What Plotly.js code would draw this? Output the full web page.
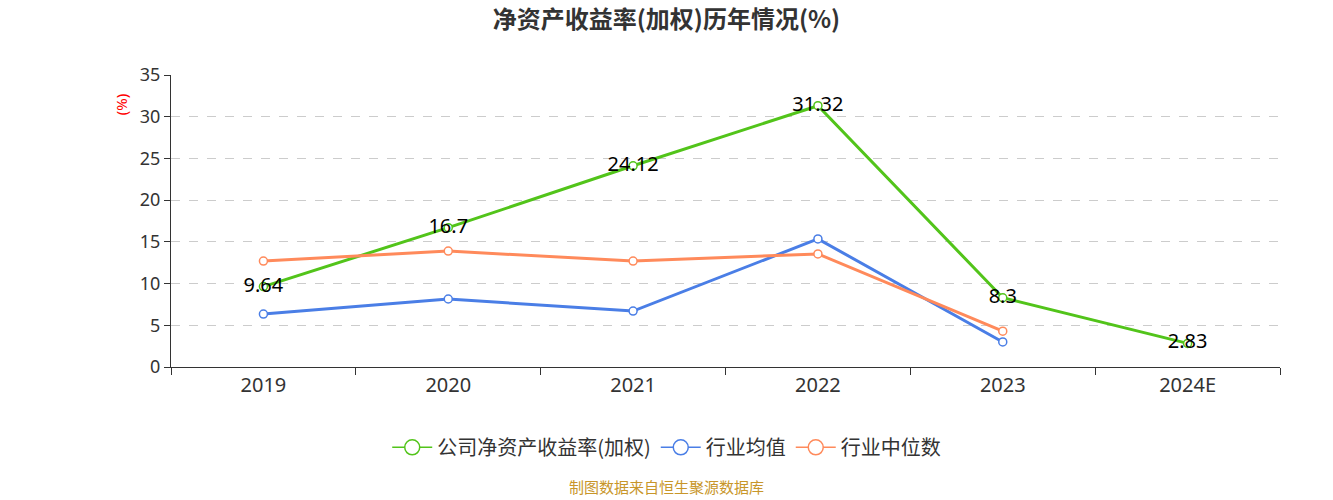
<!DOCTYPE html>
<html>
<head>
<meta charset="utf-8">
<script src="https://cdn.plot.ly/plotly-3.0.1.min.js"></script>
<style>html,body{margin:0;padding:0;background:#fff;}#chart{width:1333px;height:500px;}</style>
</head>
<body>
<div id="chart"></div>
<script>
const categories = ["2019", "2020", "2021", "2022", "2023", "2024E"];
const companyROE = [9.64, 16.7, 24.12, 31.32, 8.3, 2.83];
const industryMean = [6.35, 8.15, 6.7, 15.35, 3.0, null];
const industryMedian = [12.7, 13.9, 12.7, 13.55, 4.3, null];
const seriesNames = ["公司净资产收益率(加权)", "行业均值", "行业中位数"];
const seriesColors = ["#52c41a", "#4a7ee6", "#ff8a5b"];
const yTicks = [0, 5, 10, 15, 20, 25, 30, 35];

const FONT = "Noto Sans, Noto Sans CJK SC, sans-serif";
const CJK = "Noto Sans CJK SC, Noto Sans, sans-serif";

function series(name, y, color, withText) {
  const t = {
    x: categories, y: y, name: name, type: "scatter",
    mode: withText ? "lines+markers+text" : "lines+markers",
    line: {color: color, width: 3},
    marker: {symbol: "circle", size: 8, color: "#fff", line: {color: color, width: 1.5}},
    cliponaxis: false, showlegend: false
  };
  if (withText) {
    t.text = y.map(v => String(v));
    t.textposition = "middle center";
    t.textfont = {family: FONT, size: 20, color: "#000"};
  }
  return t;
}
function legendEntry(name, color) {
  return {
    x: [null], y: [null], name: name, type: "scatter", mode: "lines+markers",
    line: {color: color, width: 1.5},
    marker: {symbol: "circle", size: 15, color: "#fff", line: {color: color, width: 1.5}},
    showlegend: true, hoverinfo: "skip"
  };
}

const data = [
  series(seriesNames[0], companyROE, seriesColors[0], true),
  series(seriesNames[1], industryMean, seriesColors[1], false),
  series(seriesNames[2], industryMedian, seriesColors[2], false),
  legendEntry(seriesNames[0], seriesColors[0]),
  legendEntry(seriesNames[1], seriesColors[1]),
  legendEntry(seriesNames[2], seriesColors[2])
];

const layout = {
  width: 1333, height: 500,
  margin: {l: 171, r: 53, t: 75, b: 133},
  paper_bgcolor: "#fff", plot_bgcolor: "#fff",
  font: {family: FONT, color: "#333", size: 18},
  title: {text: "<b>净资产收益率(加权)历年情况(%)</b>", x: 0.5, xanchor: "center", y: 0.96, yanchor: "middle",
          font: {family: CJK, size: 24, color: "#333"}},
  showlegend: true,
  legend: {orientation: "h", x: 0.447, xanchor: "center", y: -0.275, yanchor: "middle",
           font: {family: CJK, size: 20, color: "#333"}, itemwidth: 40, traceorder: "normal"},
  xaxis: {
    type: "category", categoryorder: "array", categoryarray: categories,
    range: [-0.5, 5.5],
    showline: true, linecolor: "#333", linewidth: 1,
    ticks: "outside", tickson: "boundaries", ticklen: 7, tickcolor: "#333",
    showgrid: false, zeroline: false,
    tickfont: {family: FONT, size: 20, color: "#333"}
  },
  yaxis: {
    range: [0, 35], tickvals: yTicks, ticktext: yTicks.map(String),
    showline: true, linecolor: "#333", linewidth: 1,
    ticks: "outside", ticklen: 6, tickcolor: "#333",
    showgrid: true, gridcolor: "#ccc", griddash: "dash", gridwidth: 1,
    zeroline: false,
    tickfont: {family: FONT, size: 18, color: "#333"}
  },
  annotations: [
    {text: "(%)", textangle: -90, xref: "paper", yref: "paper", x: -0.045, y: 0.897,
     xanchor: "center", yanchor: "middle", showarrow: false,
     font: {family: FONT, size: 15, color: "#ff0000"}},
    {text: "制图数据来自恒生聚源数据库", xref: "paper", yref: "paper", x: 0.447, y: -0.408,
     xanchor: "center", yanchor: "middle", showarrow: false,
     font: {family: CJK, size: 15, color: "#c8962a"}}
  ]
};

Plotly.newPlot("chart", data, layout, {displayModeBar: false, staticPlot: true});
</script>
</body>
</html>
